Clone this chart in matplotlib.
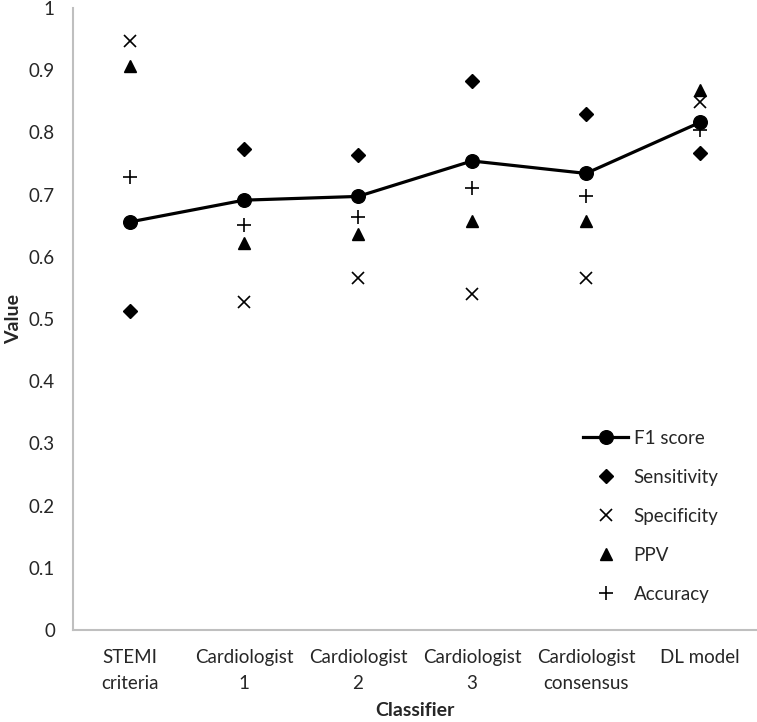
import matplotlib
matplotlib.use("Agg")
import matplotlib.pyplot as plt
import numpy as np

plt.rcParams['font.family'] = ['Lato', 'DejaVu Sans']

classifiers = ["STEMI\ncriteria", "Cardiologist\n1", "Cardiologist\n2",
               "Cardiologist\n3", "Cardiologist\nconsensus", "DL model"]
f1 = [0.656, 0.691, 0.697, 0.754, 0.734, 0.816]
sensitivity = [0.513, 0.774, 0.764, 0.883, 0.830, 0.767]
specificity = [0.947, 0.528, 0.566, 0.540, 0.566, 0.848]
ppv = [0.907, 0.622, 0.636, 0.658, 0.658, 0.868]
accuracy = [0.729, 0.651, 0.664, 0.711, 0.697, 0.804]
yticks = [0, 0.1, 0.2, 0.3, 0.4, 0.5, 0.6, 0.7, 0.8, 0.9, 1]
ytick_labels = ["0", "0.1", "0.2", "0.3", "0.4", "0.5", "0.6", "0.7", "0.8", "0.9", "1"]

FS = 13.5
TEXT = "#262626"
x = np.arange(len(classifiers))

fig = plt.figure(figsize=(7.57, 7.22), dpi=100)
ax = fig.add_axes([0.0964, 0.1274, 0.9036, 0.8616])

ax.plot(x, f1, '-', color="black", lw=2.3, marker="o", markersize=9.8, label="F1 score")
ax.plot(x, sensitivity, ' ', color="black", marker="D", markersize=7.3, label="Sensitivity")
ax.plot(x, specificity, ' ', color="black", marker="x", markersize=8.5, mew=1.2, label="Specificity")
ax.plot(x, ppv, ' ', color="black", marker="^", markersize=9, label="PPV")
ax.plot(x, accuracy, ' ', color="black", marker="+", markersize=9.5, mew=1.2, label="Accuracy")

ax.set_xlim(-0.5, len(classifiers) - 0.5)
ax.set_ylim(0, 1)
ax.set_xticks(x)
ax.set_xticklabels(classifiers, fontsize=FS, color=TEXT, linespacing=1.6)
ax.set_yticks(yticks)
ax.set_yticklabels(ytick_labels, fontsize=FS, color=TEXT)
ax.tick_params(length=0)
ax.tick_params(axis='x', pad=14)
ax.tick_params(axis='y', pad=13)

for s in ['top', 'right']:
    ax.spines[s].set_visible(False)
for s in ['left', 'bottom']:
    ax.spines[s].set_color("#bfbfbf")
    ax.spines[s].set_linewidth(1.5)

ax.set_xlabel("Classifier", fontsize=FS + 0.5, fontweight='bold', color=TEXT, labelpad=7)
ax.set_ylabel("Value", fontsize=FS + 0.5, fontweight='bold', color=TEXT, labelpad=5)

leg = ax.legend(loc="upper left", bbox_to_anchor=(0.748, 0.428), bbox_transform=fig.transFigure,
                frameon=False, fontsize=FS, labelspacing=1.17, handlelength=2.4, handletextpad=0.3)
for t in leg.get_texts():
    t.set_color(TEXT)

fig.savefig("out.png", dpi=100)
